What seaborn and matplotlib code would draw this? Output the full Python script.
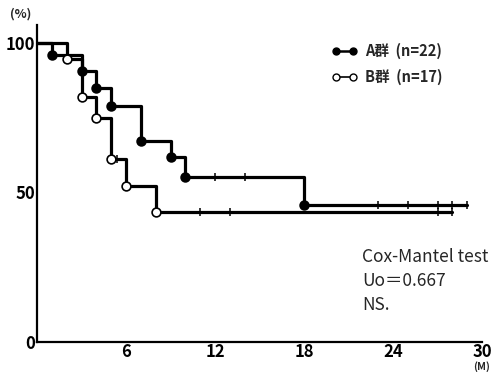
import matplotlib
matplotlib.use("Agg")
import matplotlib.pyplot as plt
from matplotlib.lines import Line2D
import seaborn as sns
import pandas as pd

# ---- data ----
a_time = [0, 1, 3, 4, 5, 7, 9, 10, 18, 29]
a_surv = [100, 96.0, 90.5, 85.0, 79.0, 67.3, 62.0, 55.2, 45.8, 45.8]
a_event_time = [1, 3, 4, 5, 7, 9, 10, 18]
a_event_surv = [96.0, 90.5, 85.0, 79.0, 67.3, 62.0, 55.2, 45.8]
a_cens_time = [12, 14, 23, 25, 27, 28, 29]
a_cens_surv = [55.2, 55.2, 45.8, 45.8, 45.8, 45.8, 45.8]

b_time = [0, 2, 3, 4, 5, 6, 8, 28]
b_surv = [100, 94.5, 82.0, 75.0, 61.2, 52.2, 43.5, 43.5]
b_event_time = [2, 3, 4, 5, 6, 8]
b_event_surv = [94.5, 82.0, 75.0, 61.2, 52.2, 43.5]
b_cens_time = [5.4, 11, 13, 27, 28]
b_cens_surv = [61.2, 43.5, 43.5, 43.5, 43.5]

x_ticks = [6, 12, 18, 24, 30]
y_ticks = [0, 50, 100]
labels = ["A群  (n=22)", "B群  (n=17)"]
test_lines = ["Cox-Mantel test", "Uo＝0.667", "NS."]

sns.set_style("white")
plt.rcParams['font.family'] = ['Noto Sans CJK JP', 'DejaVu Sans']

fig = plt.figure(figsize=(4.96, 3.72), dpi=100)
ax = fig.add_axes([37/496, 30/372, 445/496, 317/372])

df = pd.concat([
    pd.DataFrame({"t": a_time, "s": a_surv, "g": "A"}),
    pd.DataFrame({"t": b_time, "s": b_surv, "g": "B"}),
])
sns.lineplot(data=df, x="t", y="s", hue="g", palette={"A": "black", "B": "black"},
             drawstyle="steps-post", estimator=None, sort=False, lw=2.3,
             legend=False, ax=ax)

ev_a = pd.DataFrame({"t": a_event_time, "s": a_event_surv})
ev_b = pd.DataFrame({"t": b_event_time, "s": b_event_surv})
sns.scatterplot(data=ev_a, x="t", y="s", marker="o", s=40, color="black",
                edgecolor="black", linewidth=1.2, zorder=5, ax=ax)
sns.scatterplot(data=ev_b, x="t", y="s", marker="o", s=40, color="white",
                edgecolor="black", linewidth=1.2, zorder=5, ax=ax)

cens = pd.DataFrame({"t": a_cens_time + b_cens_time, "s": a_cens_surv + b_cens_surv})
sns.scatterplot(data=cens, x="t", y="s", marker="|", s=30, color="black",
                linewidth=1.1, zorder=4, ax=ax)

ax.set_xlim(0, 30)
ax.set_ylim(0, 106)
ax.set_xticks(x_ticks)
ax.set_yticks(y_ticks)
ax.set_xlabel("")
ax.set_ylabel("")
for s in ["top", "right"]:
    ax.spines[s].set_visible(False)
for s in ["left", "bottom"]:
    ax.spines[s].set_linewidth(1.6)
    ax.spines[s].set_color("black")
ax.tick_params(direction="in", length=6, width=1.4, colors="black",
               labelsize=12)
ax.tick_params(axis="x", pad=1)
ax.tick_params(axis="y", pad=1)
for lab in ax.get_xticklabels() + ax.get_yticklabels():
    lab.set_fontweight("bold")

fig.text(10/496, 1 - 14/372, "(%)", fontsize=9, fontweight="bold", va="center", ha="left")
fig.text(482/496, 1 - 367/372, "(M)", fontsize=7.5, fontweight="bold", va="center", ha="center")

handles = [
    Line2D([0], [0], color="black", lw=1.8, marker="o", markersize=5,
           markerfacecolor="black", markeredgecolor="black"),
    Line2D([0], [0], color="black", lw=1.2, marker="o", markersize=5,
           markerfacecolor="white", markeredgecolor="black"),
]
leg = ax.legend(handles, labels, loc="upper left", bbox_to_anchor=(318/496, 1 - 30/372),
                bbox_transform=fig.transFigure, frameon=False, numpoints=2,
                handlelength=1.8, handletextpad=0.5, labelspacing=0.65,
                prop={"size": 10.5, "weight": "bold"})

for i, t in enumerate(test_lines):
    fig.text(362/496, 1 - (257 + 24 * i)/372, t, fontsize=12.5,
             va="center", ha="left")

fig.savefig("out.png", dpi=100)
